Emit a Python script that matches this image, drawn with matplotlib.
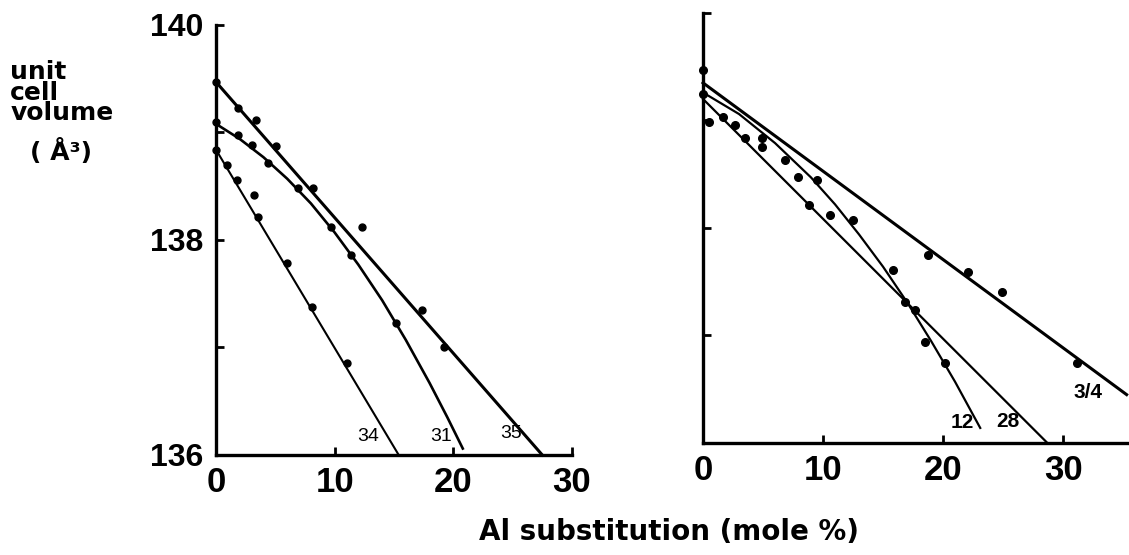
import matplotlib
matplotlib.use("Agg")
import matplotlib.pyplot as plt

# left panel: measured points
l35_x = [0, 1.85, 3.4, 5.1, 8.2, 12.3, 17.4, 19.2]
l35_y = [139.47, 139.23, 139.12, 138.87, 138.48, 138.12, 137.35, 137.0]
l31_x = [0, 1.85, 3.0, 4.4, 6.9, 9.7, 11.4, 15.2]
l31_y = [139.1, 138.98, 138.88, 138.72, 138.48, 138.12, 137.86, 137.23]
l34_x = [0, 0.9, 1.8, 3.2, 3.5, 6.0, 8.1, 11.0]
l34_y = [138.84, 138.70, 138.56, 138.42, 138.21, 137.79, 137.38, 136.86]

# left panel: drawn fit lines
fit35_x = [0, 27.5]
fit35_y = [139.47, 136.0]
fit31_x = [0, 2, 4, 6, 8, 10, 12, 14, 16, 18, 19.5, 20.8]
fit31_y = [139.08, 138.94, 138.77, 138.57, 138.34, 138.07, 137.77, 137.44, 137.07, 136.67, 136.35, 136.06]
fit34_x = [0, 15.4]
fit34_y = [138.84, 136.0]

# right panel: measured points
r12_x = [0, 1.7, 3.5, 4.9, 6.8, 9.5, 12.5, 15.8, 17.7, 18.5, 20.2]
r12_y = [139.25, 139.03, 138.84, 138.84, 138.63, 138.45, 138.07, 137.61, 137.24, 136.94, 136.74]
r28_x = [0.5, 2.7, 4.9, 7.9, 8.8, 10.6, 16.8]
r28_y = [138.99, 138.96, 138.75, 138.47, 138.21, 138.12, 137.31]
r34_x = [0, 18.75, 22.1, 24.9, 31.2]
r34_y = [139.47, 137.75, 137.59, 137.40, 136.74]

# right panel: drawn fit lines
fit_r34_x = [0, 35.3]
fit_r34_y = [139.35, 136.45]
fit_r28_x = [0, 28.7]
fit_r28_y = [139.2, 136.0]
fit_r12_x = [0, 3, 6, 9, 11, 13, 15, 17, 19, 21, 23.1]
fit_r12_y = [139.26, 139.06, 138.79, 138.47, 138.22, 137.94, 137.64, 137.31, 136.95, 136.57, 136.14]

left_labels = [("34", 12.8, 136.17), ("31", 19.0, 136.17), ("35", 24.9, 136.2)]
right_labels = [("12", 21.6, 136.19), ("28", 25.4, 136.2), ("3/4", 32.1, 136.47)]

num_font = "Liberation Sans"

fig = plt.figure(figsize=(11.29, 5.55), dpi=100)
ax1 = fig.add_axes([0.1913, 0.1802, 0.3153, 0.7748])
ax2 = fig.add_axes([0.6227, 0.2018, 0.3752, 0.7748])


def style_axis(ax, xmax):
    ax.set_xlim(0, xmax)
    ax.set_ylim(136, 140)
    for s in ["top", "right"]:
        ax.spines[s].set_visible(False)
    for s in ["left", "bottom"]:
        ax.spines[s].set_linewidth(2.4)
    ax.set_xticks([0, 10, 20, 30])
    ax.set_yticks([136, 137, 138, 139, 140])
    ax.tick_params(direction="in", length=6, width=2, pad=8)
    for lab in ax.get_xticklabels():
        lab.set_family(num_font)
        lab.set_fontsize(25)
        lab.set_fontweight("bold")


style_axis(ax1, 30)
ax1.set_yticklabels(["136", "", "138", "", "140"], family=num_font,
                    fontsize=23, fontweight="bold")
ax1.tick_params(axis="y", pad=9)

ax1.plot(fit35_x, fit35_y, color="black", lw=2.2, clip_on=False)
ax1.plot(fit31_x, fit31_y, color="black", lw=1.9, clip_on=False)
ax1.plot(fit34_x, fit34_y, color="black", lw=1.5, clip_on=False)
for xs, ys in [(l35_x, l35_y), (l31_x, l31_y), (l34_x, l34_y)]:
    ax1.plot(xs, ys, "o", color="black", ms=5, clip_on=False)
for txt, x, y in left_labels:
    ax1.text(x, y, txt, fontsize=14, family=num_font, ha="center", va="center")

style_axis(ax2, 35.3)
ax2.set_yticklabels([])
ax2.plot(fit_r34_x, fit_r34_y, color="black", lw=2.2, clip_on=False)
ax2.plot(fit_r28_x, fit_r28_y, color="black", lw=1.6, clip_on=False)
ax2.plot(fit_r12_x, fit_r12_y, color="black", lw=1.6, clip_on=False)
for xs, ys in [(r12_x, r12_y), (r28_x, r28_y), (r34_x, r34_y)]:
    ax2.plot(xs, ys, "o", color="black", ms=5.5, clip_on=False)
for txt, x, y in right_labels:
    ax2.text(x, y, txt, fontsize=15, family=num_font, fontweight="bold",
             ha="center", va="center")

# y label
fig.text(0.009, 1 - 60 / 555, "unit\ncell\nvolume", fontsize=18,
         fontweight="bold", va="top", ha="left", linespacing=0.82)
fig.text(0.027, 1 - 152 / 555, "( Å³)", fontsize=18, fontweight="bold",
         va="center", ha="left")

fig.text(0.593, 1 - 532 / 555, "Al substitution (mole %)", fontsize=20,
         fontweight="bold", ha="center", va="center")

fig.savefig("out.png", dpi=100)
